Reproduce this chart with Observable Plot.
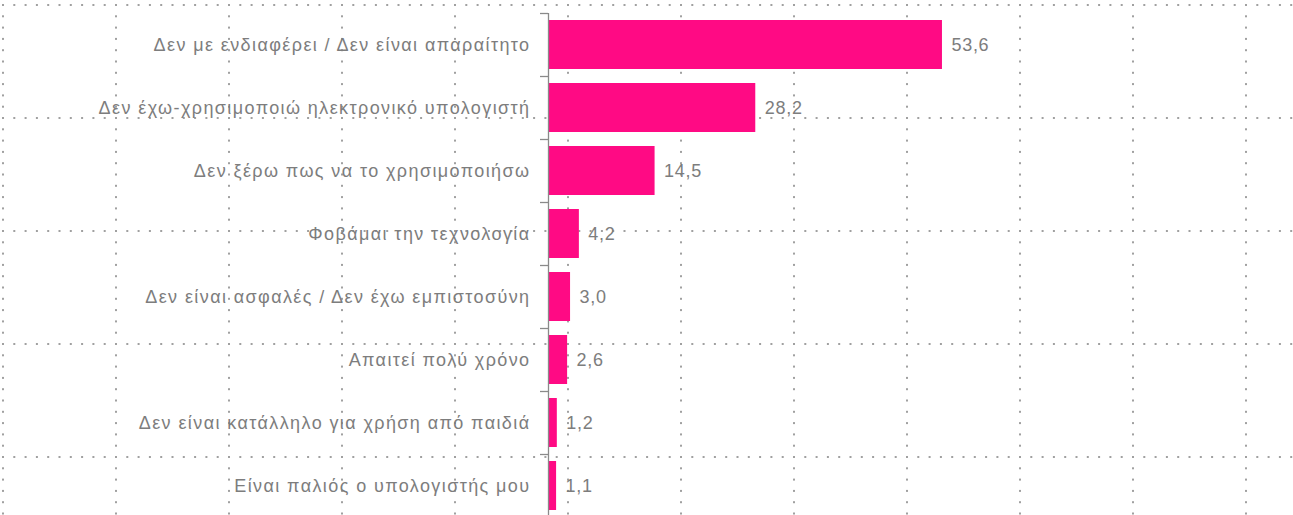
<!DOCTYPE html>
<html>
<head>
<meta charset="utf-8">
<script src="https://cdn.jsdelivr.net/npm/d3@7"></script>
<script src="https://cdn.jsdelivr.net/npm/@observablehq/plot@0.6"></script>
<style>
  html, body { margin: 0; padding: 0; background: #fff; }
  #chart {
    position: relative; width: 1293px; height: 515px; overflow: hidden;
    background-color: #fff;
    background-image: url("data:image/svg+xml,%3Csvg xmlns='http://www.w3.org/2000/svg' width='113' height='113'%3E%3Cg fill='%23a0a0a0'%3E%3Crect x='0' y='0' width='2' height='2'/%3E%3Crect x='11.3' y='0' width='2' height='2'/%3E%3Crect x='22.6' y='0' width='2' height='2'/%3E%3Crect x='33.9' y='0' width='2' height='2'/%3E%3Crect x='45.2' y='0' width='2' height='2'/%3E%3Crect x='56.5' y='0' width='2' height='2'/%3E%3Crect x='67.8' y='0' width='2' height='2'/%3E%3Crect x='79.1' y='0' width='2' height='2'/%3E%3Crect x='90.4' y='0' width='2' height='2'/%3E%3Crect x='101.7' y='0' width='2' height='2'/%3E%3Crect x='0' y='11.3' width='2' height='2'/%3E%3Crect x='0' y='22.6' width='2' height='2'/%3E%3Crect x='0' y='33.9' width='2' height='2'/%3E%3Crect x='0' y='45.2' width='2' height='2'/%3E%3Crect x='0' y='56.5' width='2' height='2'/%3E%3Crect x='0' y='67.8' width='2' height='2'/%3E%3Crect x='0' y='79.1' width='2' height='2'/%3E%3Crect x='0' y='90.4' width='2' height='2'/%3E%3Crect x='0' y='101.7' width='2' height='2'/%3E%3C/g%3E%3C/svg%3E");
    background-position: 2px 4px;
    background-repeat: repeat;
  }
  #chart svg { position: absolute; left: 0; top: 0; background: transparent; }
</style>
</head>
<body>
<div id="chart"></div>
<script>
const categories = [
  "Δεν με ενδιαφέρει / Δεν είναι απαραίτητο",
  "Δεν έχω-χρησιμοποιώ ηλεκτρονικό υπολογιστή",
  "Δεν ξέρω πως να το χρησιμοποιήσω",
  "Φοβάμαι την τεχνολογία",
  "Δεν είναι ασφαλές / Δεν έχω εμπιστοσύνη",
  "Απαιτεί πολύ χρόνο",
  "Δεν είναι κατάλληλο για χρήση από παιδιά",
  "Είναι παλιός ο υπολογιστής μου"
];
const values = [53.6, 28.2, 14.5, 4.2, 3.0, 2.6, 1.2, 1.1];
const xDomain = [0, 100];

const data = categories.map((c, i) => ({category: c, value: values[i]}));
const fmt = v => v.toFixed(1).replace(".", ",");

const W = 1293, H = 515, mTop = 13, mBottom = -2;
const step = (H - mTop - mBottom) / categories.length;
const textColor = "#7d7d7d";
const axisColor = "#8a8a8a";

const chart = Plot.plot({
  width: W,
  height: H,
  marginLeft: 548,
  marginRight: 10,
  marginTop: mTop,
  marginBottom: mBottom,
  style: {background: "transparent", fontFamily: "'Liberation Sans', Arial, sans-serif", fontSize: "18px", color: textColor, overflow: "hidden"},
  x: {domain: xDomain, axis: null},
  y: {domain: categories, paddingInner: 0.22, paddingOuter: 0.11, axis: null},
  marks: [
    Plot.barX(data, {x: "value", y: "category", fill: "#ff0a84"}),
    Plot.ruleX([0], {stroke: axisColor, strokeWidth: 1.3}),
    Plot.axisY({anchor: "left", tickSize: 8, dy: -step / 2, tickFormat: () => "", label: null, stroke: axisColor, strokeWidth: 1.3}),
    Plot.axisY({anchor: "left", tickSize: 0, tickPadding: 18, label: null, fontSize: 18, fill: textColor}),
    Plot.text(data, {x: "value", y: "category", text: d => fmt(d.value), dx: 9, textAnchor: "start", fill: textColor, fontSize: 18})
  ]
});
// widen the lettering as in the reference
d3.select(chart).selectAll("text").each(function () {
  const t = this.textContent;
  if (categories.includes(t)) this.style.letterSpacing = "1.4px";
  else if (/^\d+,\d$/.test(t)) this.style.letterSpacing = "0.7px";
});
document.getElementById("chart").appendChild(chart);
</script>
</body>
</html>
